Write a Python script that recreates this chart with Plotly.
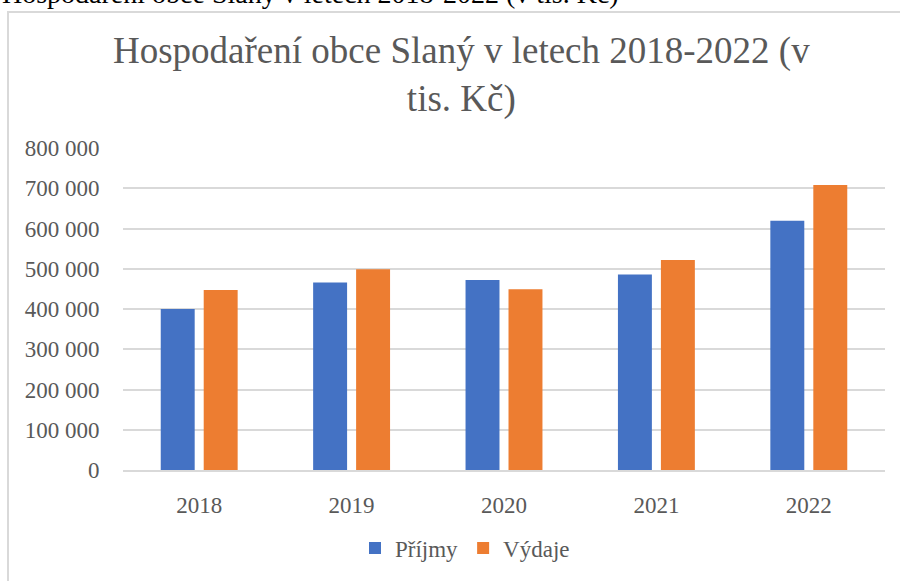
import plotly.graph_objects as go

years = ["2018", "2019", "2020", "2021", "2022"]
prijmy = [400000, 466000, 472000, 486000, 619000]
vydaje = [447000, 499000, 449000, 522000, 708000]
tick_vals = [0, 100000, 200000, 300000, 400000, 500000, 600000, 700000, 800000]
tick_text = ["0", "100 000", "200 000", "300 000", "400 000", "500 000", "600 000", "700 000", "800 000"]

W, H = 900, 581
L, R, T, B = 123, 15, 148, 111
PW = W - L - R
PH = H - T - B

def px(x):
    return (x - L) / PW

def py(y):
    return (H - B - y) / PH

FONT = "Liberation Serif"
GRAY = "#595959"

fig = go.Figure()
fig.add_trace(go.Bar(x=years, y=prijmy, name="Příjmy", marker=dict(color="#4472C4", line=dict(width=0))))
fig.add_trace(go.Bar(x=years, y=vydaje, name="Výdaje", marker=dict(color="#ED7D31", line=dict(width=0))))

fig.update_layout(
    width=W, height=H,
    margin=dict(l=L, r=R, t=T, b=B, autoexpand=False),
    paper_bgcolor="white", plot_bgcolor="white",
    barmode="group", bargap=0.436, bargroupgap=0.21,
    font=dict(family=FONT, color=GRAY, size=23),
    showlegend=True,
    legend=dict(orientation="h", x=px(465), y=py(548), xanchor="center", yanchor="middle",
                font=dict(size=23, color=GRAY, family=FONT), itemwidth=30, bgcolor="rgba(0,0,0,0)"),
    xaxis=dict(showgrid=False, showline=True, linecolor="#d9d9d9", linewidth=1.5, automargin=False,
               ticks="outside", ticklen=14, tickcolor="rgba(0,0,0,0)",
               tickfont=dict(size=23, color=GRAY, family=FONT)),
    yaxis=dict(range=[0, 800000], tickvals=tick_vals, ticktext=tick_text, automargin=False,
               showgrid=True, gridcolor="#d9d9d9", gridwidth=1.5, zeroline=False,
               showline=False, ticks="outside", ticklen=18, tickcolor="rgba(0,0,0,0)",
               tickfont=dict(size=23, color=GRAY, family=FONT)),
)

fig.add_annotation(text="Hospodaření obce Slaný v letech 2018-2022 (v<br>tis. Kč)",
                   xref="paper", yref="paper", x=px(461), y=py(75), xanchor="center", yanchor="middle",
                   showarrow=False, font=dict(size=37, color=GRAY, family=FONT))
fig.add_annotation(text="Hospodaření obce Slaný v letech 2018-2022 (v tis. Kč)",
                   xref="paper", yref="paper", x=px(0), y=py(11), xanchor="left", yanchor="bottom",
                   showarrow=False, font=dict(size=28, color="black", family=FONT))

fig.add_shape(type="line", xref="paper", yref="paper", x0=px(8), x1=px(910), y0=py(12), y1=py(12),
              line=dict(color="#d9d9d9", width=2))
fig.add_shape(type="line", xref="paper", yref="paper", x0=px(8), x1=px(8), y0=py(11), y1=py(600),
              line=dict(color="#d9d9d9", width=2))

fig.write_html("out.html", config={"displayModeBar": False},
               post_script="document.body.style.margin='0';")
